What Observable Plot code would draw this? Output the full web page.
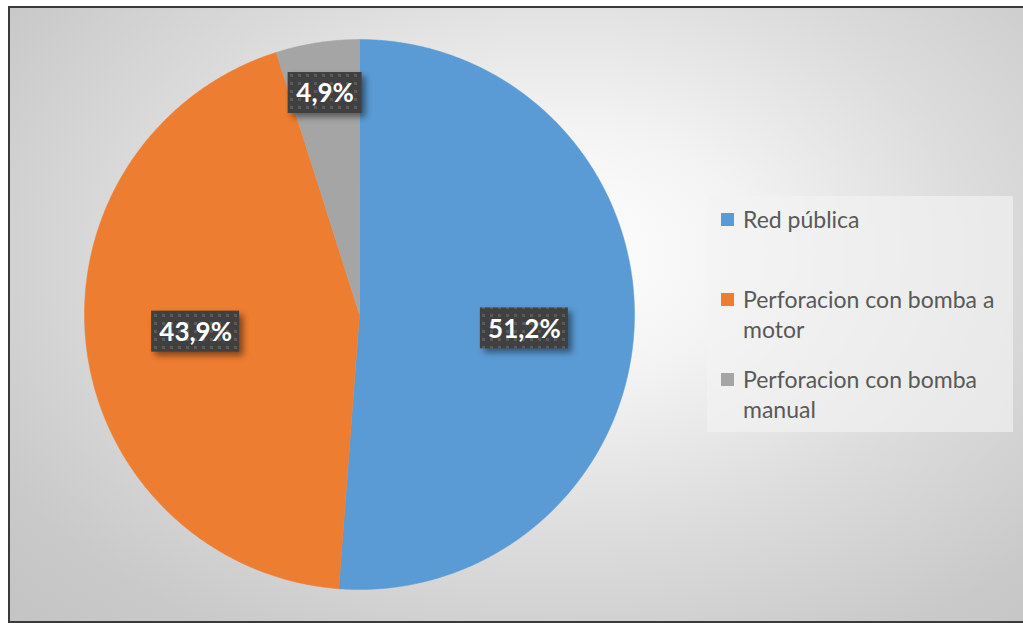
<!DOCTYPE html>
<html>
<head>
<meta charset="utf-8">
<script src="https://cdn.jsdelivr.net/npm/d3@7"></script>
<script src="https://cdn.jsdelivr.net/npm/@observablehq/plot@0.6"></script>
<style>
  html, body { margin: 0; padding: 0; background: #ffffff; }
  #frame {
    position: absolute; left: 8px; top: 6px; width: 1017px; height: 613px;
    border-left: 2px solid #3a3a3a; border-top: 2px solid #3a3a3a; border-bottom: 2px solid #3a3a3a;
    background: radial-gradient(ellipse 75% 85% at 54% 40%, #ffffff 0%, #f3f3f3 25%, #dcdcdc 55%, #c9c9c9 85%, #c4c4c4 100%);
    overflow: hidden;
  }
  #chart { position: absolute; left: 0; top: 0; }
  #chart svg { background: transparent !important; }
  .lbl rect { filter: drop-shadow(4px 4px 3px rgba(0,0,0,0.45)); }
  #legend {
    position: absolute; left: 707px; top: 196px; width: 306px; height: 236px;
    background: rgba(242,242,242,0.65);
    font-family: Lato, "Open Sans", sans-serif; font-size: 23px; color: #595959;
  }
  .item { position: absolute; left: 14px; right: 2px; line-height: 30px; padding-left: 22px; white-space: normal; }
  .sw { position: absolute; left: 0; top: 9px; width: 13px; height: 13px; }
</style>
</head>
<body>
<div id="frame"></div>
<div id="chart"></div>
<div id="legend"></div>
<script>
// ---- data ----
const categories = ["Red pública", "Perforacion con bomba a motor", "Perforacion con bomba manual"];
const values = [51.2, 43.9, 4.9];
const labels = ["51,2%", "43,9%", "4,9%"];
const colors = ["#5B9BD5", "#ED7D31", "#A5A5A5"];

// ---- geometry (unit circle, clockwise from 12 o'clock) ----
const pie = d3.pie().sort(null).value(d => d.value);
const rows = categories.map((c, i) => ({cat: c, value: values[i], label: labels[i]}));
const arcs = pie(rows);

const pts = [];
for (const a of arcs) {
  const c = a.data.cat;
  pts.push({cat: c, x: 0, y: 0});
  const n = Math.max(2, Math.ceil((a.endAngle - a.startAngle) / (Math.PI / 360)));
  for (let k = 0; k <= n; k++) {
    const t = a.startAngle + (a.endAngle - a.startAngle) * k / n;
    pts.push({cat: c, x: Math.sin(t), y: Math.cos(t)});
  }
  pts.push({cat: c, x: 0, y: 0});
}

const R = 275, cx = 359, cy = 314;
const px = 1 / R; // one pixel in data units
const lab = arcs.map(a => {
  const mid = (a.startAngle + a.endAngle) / 2;
  const small = a.data.value < 10;
  const r = small ? 0.815 : 0.6;
  const x = r * Math.sin(mid);
  const y = small ? r * Math.cos(mid) : r * Math.cos(mid) * 0.25 - 0.045;
  const w = (14 * a.data.label.length + 18) * px, h = 41 * px;
  return {label: a.data.label, x, y, x1: x - w / 2, x2: x + w / 2, y1: y - h / 2, y2: y + h / 2};
});

const svg = Plot.plot({
  width: 1023, height: 623,
  margin: 0,
  style: {background: "transparent"},
  x: {domain: [-1, 1], range: [cx - R, cx + R], axis: null},
  y: {domain: [-1, 1], range: [cy + R, cy - R], axis: null},
  color: {domain: categories, range: colors},
  marks: [
    Plot.line(pts, {x: "x", y: "y", z: "cat", fill: "cat", stroke: "cat", strokeWidth: 0.5, curve: "linear"}),
    Plot.rect(lab, {x1: "x1", x2: "x2", y1: "y1", y2: "y2", fill: "url(#dots)", className: "lbl"}),
    Plot.text(lab, {x: "x", y: "y", text: "label", fill: "white", fontSize: 26, fontWeight: "bold",
      fontFamily: "Lato, 'Open Sans', sans-serif", dy: 1})
  ]
});

// pattern for label boxes
const ns = "http://www.w3.org/2000/svg";
const defs = document.createElementNS(ns, "defs");
defs.innerHTML = `<pattern id="dots" width="8" height="8" patternUnits="userSpaceOnUse">
  <rect width="8" height="8" fill="#404040"/>
  <rect x="2" y="2" width="3" height="3" fill="#5a5a5a"/>
</pattern>`;
svg.insertBefore(defs, svg.firstChild);
document.getElementById("chart").appendChild(svg);

// legend
const tops = [8, 88, 168];
const leg = document.getElementById("legend");
categories.forEach((c, i) => {
  const it = document.createElement("div");
  it.className = "item";
  it.style.top = tops[i] + "px";
  const sw = document.createElement("span");
  sw.className = "sw";
  sw.style.background = colors[i];
  it.appendChild(sw);
  it.appendChild(document.createTextNode(c));
  leg.appendChild(it);
});
</script>
</body>
</html>
